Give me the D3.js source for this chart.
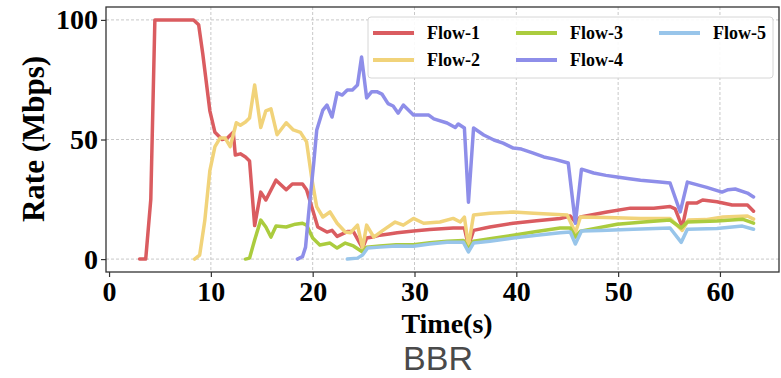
<!DOCTYPE html>
<html>
<head>
<meta charset="utf-8">
<script src="https://cdn.jsdelivr.net/npm/d3@7"></script>
<style>
  body { margin: 0; background: #fff; }
  svg { display: block; }
</style>
</head>
<body>
<div id="chart"></div>
<script>
// rate samples, [time (s), rate (Mbps)]
const flow1 = [[3,0],[3.6,0],[4.1,25],[4.5,100],[5,100],[6,100],[7,100],[8.3,100],[8.8,98],[9.2,86],[9.9,62],[10.4,53],[11.1,50],[11.6,50.5],[12.2,53],[12.4,43.5],[12.9,44],[13.4,42.7],[13.8,41],[14.3,14],[14.9,28],[15.4,24.7],[16.4,33],[16.9,31],[17.4,29],[18,31.4],[19,31.4],[19.4,29],[20,20.5],[20.5,13.4],[21.4,11.3],[21.9,12],[22.4,9.5],[23.4,11.5],[24,11.5],[24.9,4.6],[25.3,8.8],[25.9,9.2],[26.6,10],[27.5,10.5],[28.3,11],[29.9,11.7],[31.5,12.4],[33.8,13],[34.9,13],[35.3,5.5],[35.8,12],[37.4,13.4],[39.7,15],[42,16],[44.3,17],[45.3,18],[45.8,15.5],[46.3,17.6],[48.9,19.7],[51.2,21.3],[53.5,21.3],[55.1,22],[55.6,21],[56.3,13.4],[56.8,23.4],[57.7,23.4],[58.3,24.7],[59.7,24],[61.2,22.6],[62.7,22.6],[63.3,20]];
const flow2 = [[8.4,0],[8.9,1.7],[9.4,16],[9.9,37],[10.4,47],[10.9,50.6],[11.4,50.6],[11.9,47],[12.5,57],[12.9,56],[13.4,57.3],[13.8,59],[14.3,72.8],[14.9,55],[15.4,62],[15.9,62.8],[16.5,52],[17.4,57],[18.1,54],[18.8,53],[19.4,49],[19.9,34],[20.4,21.8],[21,17.6],[21.7,19.7],[22.4,15],[23.2,11.3],[23.7,11],[24.4,14.2],[24.9,4.6],[25.3,14.2],[26,9.2],[26.9,12],[28.1,15.5],[28.9,14.2],[29.9,17],[30.9,15],[32.5,15.5],[33.8,17],[34.5,15.5],[34.9,17.6],[35.3,5.5],[35.8,18.4],[37.4,19.2],[39.7,19.7],[41.7,19.2],[45,18.4],[45.8,11],[46.3,17.6],[48.9,17.4],[52.2,17],[55.1,17],[56.3,12],[56.9,16.3],[58.6,16.5],[60.3,17.6],[62.7,18],[63.3,16.7]];
const flow3 = [[13.4,0],[13.8,0.4],[14.3,8],[14.9,16.3],[15.4,13.4],[15.9,9.2],[16.4,13.8],[17.4,13.4],[18.3,14.6],[19,15],[19.4,14.2],[20,8.8],[20.7,5.9],[21.7,6.7],[22.4,4.6],[23.2,6.7],[24,5.5],[24.9,3],[25.3,5],[26.6,5.5],[28.2,6],[29.9,6],[31.5,6.8],[33.2,7.5],[34.8,7.8],[35.3,4],[35.8,7.5],[37.4,8.5],[39.7,10],[42,11.5],[44.3,13],[45.3,13],[45.8,9.2],[46.3,11.7],[49.9,14.6],[52.5,15.5],[55.1,16.3],[56.2,13],[56.8,15.5],[59.7,15.9],[62.2,16.7],[63.3,15]];
const flow4 = [[18.5,0],[19,1],[19.3,5],[19.6,19],[20.1,40],[20.4,54],[21,62.3],[21.4,64.4],[21.9,59.4],[22.4,69.5],[22.9,68.6],[23.4,70.7],[23.9,70.7],[24.4,72.8],[24.8,84.5],[25.3,67.4],[25.8,70],[26.3,70],[26.8,69],[27.4,65],[27.9,64],[28.4,61],[28.9,64.4],[29.9,60.2],[31.4,60.2],[31.9,58.6],[33.2,56.9],[34,55],[34.3,56.5],[34.9,54.8],[35.3,23.8],[35.8,54.8],[36.8,51.9],[37.8,49.8],[38.7,48.5],[39.7,46.4],[40.5,46],[41.6,44.4],[42.7,42.7],[43.7,41.8],[45.1,40.2],[45.8,15],[46.4,37.6],[47.6,36],[48.8,35],[49.9,34.3],[51.1,33.6],[52.2,33],[54.1,32.2],[55.1,31.8],[56.1,19.7],[56.8,32.2],[58.7,30],[60.2,28],[60.8,29],[61.5,29.3],[62.7,27.6],[63.3,26]];
const flow5 = [[23.4,0],[24.4,0.4],[24.9,1.7],[25.4,4.6],[26.6,5],[28.2,5.5],[29.9,5.4],[31.5,6.3],[33.2,7],[34.8,7],[35.3,3],[35.8,6.7],[37.4,7.5],[39.7,8.8],[42,10],[44.3,11],[45.3,11.3],[45.8,6.3],[46.4,11.7],[48.3,12],[51.5,12.5],[55.1,13],[56.2,7],[56.8,12.5],[59.7,12.8],[62.2,13.8],[63.3,12.5]];

const flowNames = ["Flow-1", "Flow-2", "Flow-3", "Flow-4", "Flow-5"];
const flowColors = ["#da5c60", "#f1d37a", "#abcc3e", "#8e8ee9", "#98c5ea"];
const xTicks = [0, 10, 20, 30, 40, 50, 60];
const yTicks = [0, 50, 100];

const W = 781, H = 378;
let margin = { top: 7, left: 106, right: 2, bottom: 106 };

let svg = d3.select('#chart')
  .append('svg')
  .attr('width', W)
  .attr('height', H);

const x = d3.scaleLinear().domain([-0.3, 65.8]).range([margin.left, W - margin.right]);
const y = d3.scaleLinear().domain([-5.4, 105.4]).range([H - margin.bottom, margin.top]);

const serif = "'Liberation Serif', 'Times New Roman', serif";

// grid
svg.append("g")
  .selectAll("line.gx")
  .data(xTicks.slice(1))
  .join("line")
  .attr("x1", d => x(d)).attr("x2", d => x(d))
  .attr("y1", y.range()[1]).attr("y2", y.range()[0])
  .attr("stroke", "#c8c8c8").attr("stroke-width", 1).attr("stroke-dasharray", "3,2");

svg.append("g")
  .selectAll("line.gy")
  .data(yTicks)
  .join("line")
  .attr("x1", x.range()[0]).attr("x2", x.range()[1])
  .attr("y1", d => y(d)).attr("y2", d => y(d))
  .attr("stroke", "#c8c8c8").attr("stroke-width", 1).attr("stroke-dasharray", "3,2");

// lines
const line = d3.line().x(d => x(d[0])).y(d => y(d[1]));
const flows = [flow1, flow2, flow3, flow4, flow5];

svg.append("g")
  .selectAll("path")
  .data(flows)
  .join("path")
  .attr("d", line)
  .attr("fill", "none")
  .attr("stroke", (d, i) => flowColors[i])
  .attr("stroke-width", 3.5)
  .attr("stroke-linejoin", "round")
  .attr("stroke-linecap", "round");

// frame
svg.append("rect")
  .attr("x", x.range()[0]).attr("y", y.range()[1])
  .attr("width", x.range()[1] - x.range()[0])
  .attr("height", y.range()[0] - y.range()[1])
  .attr("fill", "none").attr("stroke", "#333").attr("stroke-width", 1.3);

// axes
let xAxis = svg.append("g")
  .attr("transform", `translate(0,${y.range()[0]})`)
  .call(d3.axisBottom(x).tickValues(xTicks).tickSize(5).tickPadding(4));
let yAxis = svg.append("g")
  .attr("transform", `translate(${x.range()[0]},0)`)
  .call(d3.axisLeft(y).tickValues(yTicks).tickSize(5).tickPadding(3));

[xAxis, yAxis].forEach(g => {
  g.select(".domain").remove();
  g.selectAll(".tick line").attr("stroke", "#333").attr("stroke-width", 1.2);
  g.selectAll("text")
    .attr("fill", "#000")
    .style("font-family", serif)
    .style("font-weight", "bold")
    .style("font-size", "28px");
});

// axis titles
svg.append("text")
  .attr("x", 447).attr("y", 333)
  .attr("text-anchor", "middle")
  .style("font-family", serif).style("font-weight", "bold").style("font-size", "28px")
  .text("Time(s)");

svg.append("text")
  .attr("transform", "translate(44,139) rotate(-90)")
  .attr("text-anchor", "middle")
  .style("font-family", serif).style("font-weight", "bold").style("font-size", "31px")
  .text("Rate (Mbps)");

svg.append("text")
  .attr("x", 438).attr("y", 370)
  .attr("text-anchor", "middle")
  .attr("fill", "#4a4a4a")
  .style("font-family", "'Liberation Sans', Arial, sans-serif").style("font-size", "34px")
  .text("BBR");

// legend
let legend = svg.append("g");
legend.append("rect")
  .attr("x", 368).attr("y", 17).attr("width", 405).attr("height", 61)
  .attr("rx", 3)
  .attr("fill", "#fff").attr("fill-opacity", 0.9)
  .attr("stroke", "#d6d6d6").attr("stroke-width", 1);

const legCols = [373, 516, 659];
const legRows = [33, 60];
flowNames.forEach((name, i) => {
  let lx = legCols[Math.floor(i / 2)], ly = legRows[i % 2];
  legend.append("line")
    .attr("x1", lx).attr("x2", lx + 41)
    .attr("y1", ly).attr("y2", ly)
    .attr("stroke", flowColors[i]).attr("stroke-width", 4);
  legend.append("text")
    .attr("x", lx + 54).attr("y", ly + 6)
    .style("font-family", serif).style("font-weight", "bold").style("font-size", "18px")
    .text(name);
});
</script>
</body>
</html>
